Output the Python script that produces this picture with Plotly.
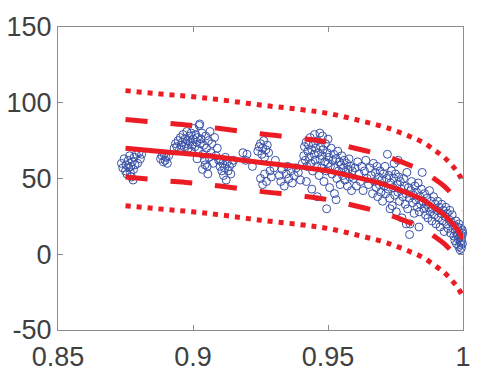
import plotly.graph_objects as go

# ---------------- data ----------------
cluster_a = [(0.8735,60),(0.8740,57),(0.8745,63),(0.8750,55),(0.8752,59),(0.8755,53),(0.8760,62),(0.8762,57),
             (0.8765,65),(0.8770,58),(0.8772,51),(0.8775,61),(0.8780,56),(0.8782,64),(0.8785,59),(0.8790,66),
             (0.8795,60),(0.8800,67),(0.8805,63),(0.8810,66),(0.8768,54),(0.8778,49)]
cluster_b = [(0.8880,63),(0.8885,65),(0.8890,61),(0.8893,66),(0.8897,62),(0.8900,64),(0.8905,60),(0.8910,65),
             (0.8930,70),(0.8935,73),(0.8940,71),(0.8945,75),(0.8950,69),(0.8953,77),(0.8957,72),(0.8960,74),
             (0.8963,79),(0.8967,71),(0.8970,76),(0.8973,73),(0.8977,81),(0.8980,75),(0.8983,70),(0.8987,78),
             (0.8990,74),(0.8993,80),(0.8997,72),(0.9000,76),(0.9003,83),(0.9007,71),(0.9010,79),(0.9013,74),
             (0.9017,77),(0.9020,69),(0.9023,85),(0.9027,73),(0.9030,76),(0.9033,80),(0.9037,66),(0.9040,72),
             (0.9043,62),(0.9047,78),(0.9050,70),(0.9053,58),(0.9057,75),(0.9060,64),(0.9063,81),(0.9067,67),
             (0.9070,73),(0.9075,60),(0.9080,77),(0.9085,65),(0.9090,70),(0.9095,62),(0.8995,68),(0.9015,63),
             (0.9035,56),(0.9055,53),(0.9025,86),(0.9045,59)]
cluster_c = [(0.9100,58),(0.9103,62),(0.9107,55),(0.9110,60),(0.9113,52),(0.9117,57),(0.9120,64),(0.9123,49),
             (0.9127,61),(0.9130,55),(0.9135,58),(0.9140,53),(0.9145,60),(0.9150,62)]
cluster_d = [(0.9185,67),(0.9195,62),(0.9200,66),(0.9220,58),(0.9240,68),(0.9245,71),(0.9250,73),(0.9255,66),
             (0.9258,70),(0.9262,75),(0.9265,64),(0.9270,69),(0.9275,72),(0.9280,67),(0.9250,50),(0.9258,46),
             (0.9265,53),(0.9272,48),(0.9285,55),(0.9290,51),(0.9300,57),(0.9305,62)]
cluster_e = [(0.9320,52),(0.9325,48),(0.9330,56),(0.9338,45),(0.9345,53),(0.9350,58),(0.9355,50),(0.9362,55),
             (0.9368,47),(0.9375,52),(0.9382,57),(0.9390,54),(0.9398,49),(0.9405,60)]
cluster_f = [(0.9410,65),(0.9413,71),(0.9416,62),(0.9419,74),(0.9422,58),(0.9425,68),(0.9428,72),(0.9431,64),
             (0.9434,77),(0.9437,60),(0.9440,69),(0.9443,55),(0.9446,73),(0.9449,66),(0.9452,62),(0.9455,70),
             (0.9458,58),(0.9461,75),(0.9464,67),(0.9467,52),(0.9470,63),(0.9473,71),(0.9476,57),(0.9479,65),
             (0.9482,69),(0.9485,48),(0.9488,61),(0.9491,73),(0.9494,55),(0.9497,67),(0.9500,60),(0.9503,64),
             (0.9506,44),(0.9509,58),(0.9512,70),(0.9515,53),(0.9518,62),(0.9521,66),(0.9524,40),(0.9527,57),
             (0.9530,63),(0.9533,50),(0.9536,68),(0.9539,55),(0.9542,61),(0.9545,46),(0.9548,59),(0.9551,65),
             (0.9554,52),(0.9557,57),(0.9560,62),(0.9563,49),(0.9566,54),(0.9569,60),(0.9572,45),(0.9575,56),
             (0.9578,63),(0.9581,51),(0.9584,58),(0.9587,42),(0.9590,55),(0.9495,30),(0.9530,36),(0.9460,38),
             (0.9440,43),(0.9420,48),(0.9480,78),(0.9450,79),(0.9500,76),(0.9470,80)]
cluster_g = [(0.9595,50),(0.9600,57),(0.9605,45),(0.9610,61),(0.9615,53),(0.9620,48),(0.9625,58),(0.9630,42),
             (0.9635,55),(0.9640,62),(0.9645,50),(0.9650,46),(0.9655,57),(0.9660,52),(0.9665,40),(0.9668,60)]
cluster_h = [(0.9672,48),(0.9675,54),(0.9678,44),(0.9681,58),(0.9684,38),(0.9687,51),(0.9690,46),(0.9693,55),
             (0.9696,41),(0.9699,49),(0.9702,35),(0.9705,53),(0.9708,45),(0.9711,58),(0.9714,40),(0.9717,50),
             (0.9720,66),(0.9723,43),(0.9726,52),(0.9729,37),(0.9732,47),(0.9735,55),(0.9738,32),(0.9741,44),
             (0.9744,50),(0.9747,39),(0.9750,53),(0.9753,28),(0.9756,46),(0.9759,41),(0.9762,51),(0.9765,35),
             (0.9768,48),(0.9771,43),(0.9774,24),(0.9777,38),(0.9780,50),(0.9783,45),(0.9786,33),(0.9789,40),
             (0.9792,54),(0.9795,30),(0.9798,44),(0.9801,37),(0.9804,20),(0.9807,42),(0.9810,48),(0.9813,34),
             (0.9816,39),(0.9819,27),(0.9822,45),(0.9825,36),(0.9828,41),(0.9831,31),(0.9834,47),(0.9837,18),
             (0.9840,38),(0.9843,33),(0.9846,43),(0.9849,54),(0.9838,28),(0.9760,62),(0.9745,60),(0.9730,30),
             (0.9790,20),(0.9802,13)]
cluster_i = [(0.9852,35),(0.9855,30),(0.9858,40),(0.9861,26),(0.9864,33),(0.9867,37),(0.9870,24),(0.9873,31),
             (0.9876,42),(0.9879,28),(0.9882,35),(0.9885,22),(0.9888,30),(0.9891,38),(0.9894,26),(0.9897,33),
             (0.9900,20),(0.9903,29),(0.9906,35),(0.9909,24),(0.9912,31),(0.9915,18),(0.9918,27),(0.9921,33),
             (0.9924,22),(0.9927,29),(0.9930,15),(0.9933,25),(0.9936,31),(0.9939,20),(0.9942,27),(0.9945,17),
             (0.9948,23),(0.9951,29),(0.9954,14),(0.9957,21),(0.9960,26),(0.9963,17)]
cluster_j = [(0.9966,12),(0.9968,19),(0.9970,9),(0.9972,15),(0.9974,22),(0.9976,7),(0.9978,13),(0.9980,18),
             (0.9982,10),(0.9984,5),(0.9986,15),(0.9988,11),(0.9990,8),(0.9992,17),(0.9994,4),(0.9996,12),
             (0.9998,7),(0.9999,14),(0.9985,20),(0.9991,13),(0.9995,9),(0.9997,16),(0.9993,6),(0.9989,3)]

# fitted curve
fit_x = [0.875, 0.89, 0.90, 0.91, 0.925, 0.94, 0.95, 0.96, 0.97, 0.975, 0.98, 0.985, 0.99, 0.993, 0.996, 0.998, 1.0]
fit_y = [70, 67.5, 66, 64, 60.5, 57.5, 55, 51, 46.5, 43.5, 40, 36, 30, 26, 20.5, 16, 10]
inner_halfwidth = 19   # dashed band
outer_halfwidth = 38   # dotted band

x_ticks = [0.85, 0.9, 0.95, 1.0]
x_tick_text = ["0.85", "0.9", "0.95", "1"]
y_ticks = [-50, 0, 50, 100, 150]
y_tick_text = ["-50", "0", "50", "100", "150"]

# ---------------- figure ----------------
points = cluster_a + cluster_b + cluster_c + cluster_d + cluster_e + cluster_f + cluster_g + cluster_h + cluster_i + cluster_j
scatter_x = [p[0] for p in points]
scatter_y = [p[1] for p in points]

RED = "#ec1c24"
BLUE = "#3a52a8"

fig = go.Figure()
fig.add_trace(go.Scatter(x=scatter_x, y=scatter_y, mode="markers", cliponaxis=False, hoverinfo="skip",
                         marker=dict(symbol="circle-open", size=8, color=BLUE, line=dict(width=1, color=BLUE))))

bands = [
    ([y + outer_halfwidth for y in fit_y], "5px,6px"),
    ([y - outer_halfwidth for y in fit_y], "5px,6px"),
    ([y + inner_halfwidth for y in fit_y], "22px,23px"),
    ([y - inner_halfwidth for y in fit_y], "22px,23px"),
]
for ys, dash in bands:
    fig.add_trace(go.Scatter(x=fit_x, y=ys, mode="lines", hoverinfo="skip",
                             line=dict(color=RED, width=5, dash=dash, shape="spline", smoothing=1)))
fig.add_trace(go.Scatter(x=fit_x, y=fit_y, mode="lines", hoverinfo="skip",
                         line=dict(color=RED, width=5, shape="spline", smoothing=1)))

axis_common = dict(showline=True, linecolor="#8c8c8c", linewidth=1, mirror="ticks",
                   ticks="inside", ticklen=5, tickcolor="#8c8c8c", showgrid=False, zeroline=False,
                   automargin=False,
                   tickfont=dict(family="Liberation Sans, Arial, sans-serif", size=27, color="#404040"))

fig.update_layout(
    width=479, height=380,
    margin=dict(l=58, r=16, t=27, b=50, pad=0),
    paper_bgcolor="white", plot_bgcolor="white",
    showlegend=False,
    xaxis=dict(range=[0.85, 1.0], tickvals=x_ticks, ticktext=x_tick_text, ticklabelstandoff=3, **axis_common),
    yaxis=dict(range=[-50, 150], tickvals=y_ticks, ticktext=y_tick_text, ticklabelstandoff=0, **axis_common),
)

fig.write_html("out.html", config={"displayModeBar": False},
               post_script="document.body.style.margin='0';document.body.style.overflow='hidden';")
